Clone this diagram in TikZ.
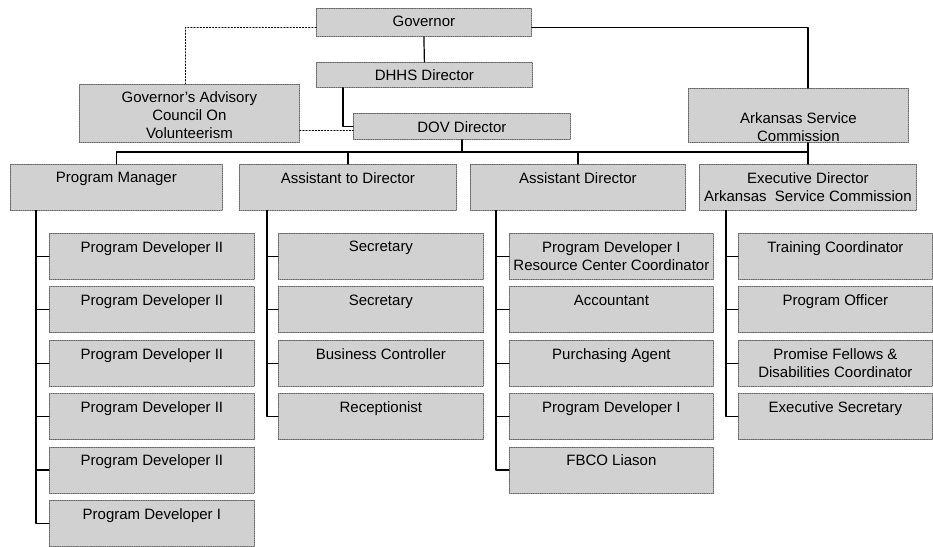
\documentclass[tikz,border=0pt]{standalone}
\usepackage{fontspec}
\setmainfont{Liberation Sans}
\usetikzlibrary{calc}
\definecolor{dcdcdc}{rgb}{0.82,0.82,0.82}
\definecolor{uuuuuu}{rgb}{0.40,0.40,0.40}
\tikzstyle{every node}=[font=\fontsize{15}{18}\selectfont]
\tikzstyle{unit}=[draw=uuuuuu,densely dotted,line width=0.8pt,fill=dcdcdc,inner sep=0pt,anchor=north west]
\tikzstyle{conn}=[line width=1.2pt,black]
\tikzstyle{advice}=[line width=1.1pt,black,dotted]
\newcommand{\unittext}[4][8]{\parbox[t][#3pt][t]{#2pt}{\centering\vspace*{#1pt}#4}}

\begin{document}
\begin{tikzpicture}[line cap=round,line join=round,x=1pt,y=-1pt]
\useasboundingbox (0,0) rectangle (933,546);
% upper part
\node[unit] (gov) at (316,8) {\unittext{215}{28}{Governor}};
\node[unit] (dhhs) at (316,62) {\unittext[7]{216}{25}{DHHS Director}};
\node[unit] (adv) at (79,84) {\unittext[7]{220}{58}{Governor's Advisory\\Council On\\Volunteerism}};
\node[unit] (dov) at (353,113) {\unittext[8]{217}{26}{DOV Director}};
\node[unit] (asc) at (688,88) {\unittext[24]{220}{54}{Arkansas Service\\Commission}};
% second level
\node[unit] (pm) at (10,164) {\unittext{212}{46}{Program Manager}};
\node[unit] (atd) at (239,164) {\unittext{217}{46}{Assistant to Director}};
\node[unit] (ad) at (470,164) {\unittext{215}{46}{Assistant Director}};
\node[unit] (ed) at (699,164) {\unittext{217}{46}{Executive Director\\Arkansas\ \ Service Commission}};
\coordinate (bus) at (0,152);
\coordinate (dovlink) at ([yshift=-4pt]dov.west);
\draw[conn] (gov.south) -- (dhhs.north);
\draw[conn] ([xshift=27pt]dhhs.south west) |- (dov.west);
\draw[advice] ([yshift=-5pt]gov.west) -| ([xshift=-4pt]adv.north);
\draw[advice] (adv.east |- dovlink) -- (dovlink);
\draw[conn] ([yshift=-5pt]gov.east) -| (ed.north |- asc.north);
\draw[conn] (ed.north |- asc.south) -- (ed.north);
\draw[conn] (dov.south) -- (dov.south |- bus);
\draw[conn] (pm.north) -- (pm.north |- bus) -- (ed.north |- bus);
\draw[conn] (atd.north) -- (atd.north |- bus);
\draw[conn] (ad.north) -- (ad.north |- bus);
% staff columns
\foreach \t [count=\i] in {Program Developer II,Program Developer II,Program Developer II,Program Developer II,Program Developer II,Program Developer I}
{
\node[unit] (pmc\i) at (49,{233+53.4*(\i-1)}) {\unittext{205}{46}{\t}};
\draw[conn] ([xshift=26pt]pm.south west) |- (pmc\i.west);
}
\foreach \t [count=\i] in {Secretary,Secretary,Business Controller,Receptionist}
{
\node[unit] (atdc\i) at (278,{233+53.4*(\i-1)}) {\unittext{205}{46}{\t}};
\draw[conn] ([xshift=28pt]atd.south west) |- (atdc\i.west);
}
\foreach \t [count=\i] in {{Program Developer I\\Resource Center Coordinator},Accountant,Purchasing Agent,Program Developer I,FBCO Liason}
{
\node[unit] (adc\i) at (509,{233+53.4*(\i-1)}) {\unittext{204}{46}{\t}};
\draw[conn] ([xshift=26pt]ad.south west) |- (adc\i.west);
}
\foreach \t [count=\i] in {Training Coordinator,Program Officer,{Promise Fellows \&\\Disabilities Coordinator},Executive Secretary}
{
\node[unit] (edc\i) at (738,{233+53.4*(\i-1)}) {\unittext{194}{46}{\t}};
\draw[conn] ([xshift=27pt]ed.south west) |- (edc\i.west);
}
\end{tikzpicture}
\end{document}
